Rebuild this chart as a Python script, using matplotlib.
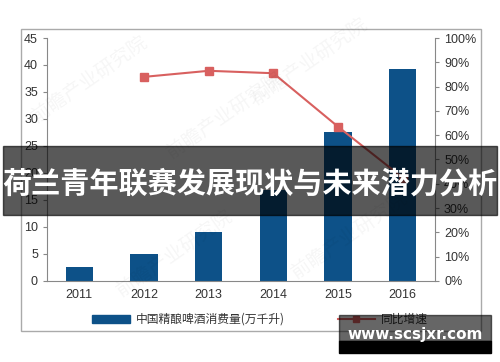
import matplotlib.pyplot as plt
from matplotlib.patches import Rectangle
from matplotlib.lines import Line2D
from matplotlib.patches import Patch

plt.rcParams['font.family'] = ['Liberation Sans', 'Noto Sans CJK SC', 'DejaVu Sans']

years = ['2011', '2012', '2013', '2014', '2015', '2016']
volume = [2.6, 5.0, 9.1, 16.9, 27.6, 39.3]          # 万千升
growth_years = ['2012', '2013', '2014', '2015', '2016']
growth = [84, 86.5, 85.5, 63.5, 42.5]              # %

bar_color = '#0d5188'
line_color = '#d8605f'
text_color = '#333333'

fig = plt.figure(figsize=(5, 3.62), dpi=100)
ax = fig.add_axes([0.094, 0.224, 0.776, 0.671])
x = list(range(len(years)))
ax.bar(x, volume, width=0.42, color=bar_color, zorder=2)
ax.set_xlim(-0.5, len(years) - 0.5)
ax.set_ylim(0, 45)
ax.set_yticks(range(0, 50, 5))
ax.set_xticks(x)
ax.set_xticklabels(years)
for s in ['top', 'right']:
    ax.spines[s].set_visible(False)
for s in ['left', 'bottom']:
    ax.spines[s].set_color('#888888')
ax.tick_params(colors=text_color, labelsize=9, length=3, color='#888888')
ax.tick_params(axis='x', length=0, pad=6)

ax2 = ax.twinx()
gx = [years.index(y) for y in growth_years]
ax2.plot(gx, growth, color=line_color, lw=1.5, marker='s', ms=6, zorder=3)
ax2.set_ylim(0, 100)
ax2.set_yticks(range(0, 110, 10))
ax2.set_yticklabels([f'{v}%' for v in range(0, 110, 10)])
for s in ['top', 'left', 'bottom']:
    ax2.spines[s].set_visible(False)
ax2.spines['right'].set_color('#888888')
ax2.tick_params(colors=text_color, labelsize=9, length=3, color='#888888')

# faint watermarks
for wx, wy in [(0.18, 0.78), (0.45, 0.68), (0.62, 0.83), (0.35, 0.3), (0.7, 0.35)]:
    fig.text(wx, wy, '前瞻产业研究院', rotation=35, fontsize=14, color='#000000',
             alpha=0.04, ha='center', va='center', family=['Noto Sans CJK SC'])

# outer frame
fig.patches.append(Rectangle((0.042, 0.086), 0.92, 0.834, transform=fig.transFigure,
                             fill=False, edgecolor='#aaaaaa', lw=1, zorder=0))

handles = [Patch(color=bar_color),
           Line2D([0], [0], color=line_color, marker='s', ms=5, lw=1.5)]
fig.legend(handles, ['中国精酿啤酒消费量(万千升)', '同比增速'], loc='center',
           bbox_to_anchor=(0.52, 0.118), ncol=2, frameon=False,
           handlelength=3.2, handleheight=0.7, handletextpad=0.5, columnspacing=4.5,
           labelcolor=text_color, prop={'family': ['Noto Sans CJK SC'], 'size': 8.5})

# title banner
fig.patches.append(Rectangle((0.006, 0.406), 0.988, 0.191, transform=fig.transFigure,
                             color='black', alpha=0.65, zorder=10))
fig.text(0.5, 0.494, '荷兰青年联赛发展现状与未来潜力分析', color='white', fontsize=21,
         fontweight='bold', ha='center', va='center', zorder=11,
         family=['Noto Sans CJK SC'])

# site stamp
fig.patches.append(Rectangle((0.678, 0.058), 0.304, 0.072, transform=fig.transFigure,
                             color='black', alpha=0.6, zorder=10))
fig.patches.append(Rectangle((0.678, 0.025), 0.304, 0.034, transform=fig.transFigure,
                             color='black', zorder=10))
fig.text(0.83, 0.075, 'www.scsjxr.com', color='white', fontsize=11, fontweight='bold',
         ha='center', va='center', zorder=11, family=['DejaVu Sans'])

fig.savefig('out.png', dpi=100)
